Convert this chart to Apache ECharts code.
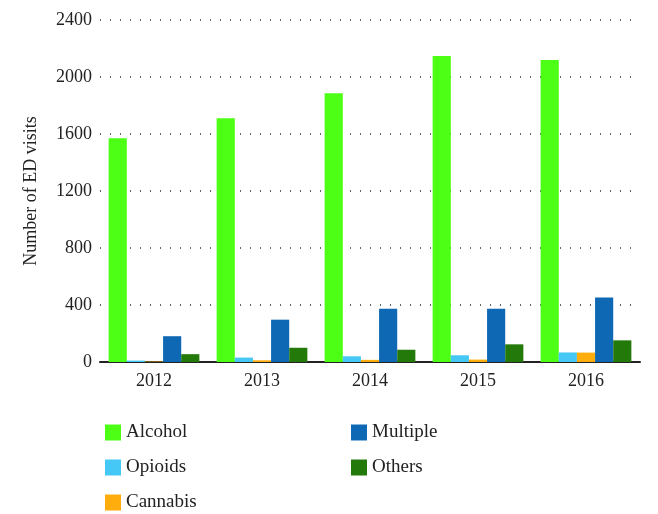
<!DOCTYPE html>
<html>
<head>
<meta charset="utf-8">
<script src="https://cdn.jsdelivr.net/npm/echarts@6/dist/echarts.min.js"></script>
<style>html,body{margin:0;background:#fff}#c{width:658px;height:514px}</style>
</head>
<body>
<div id="c"></div>
<script>
var years = ['2012', '2013', '2014', '2015', '2016'];
var alcohol = [1570, 1710, 1886, 2147, 2119];
var opioids = [10, 31, 40, 47, 67];
var cannabis = [3, 12, 15, 17, 66];
var multiple = [181, 297, 374, 374, 452];
var others = [55, 100, 86, 124, 152];
var yTicks = [0, 400, 800, 1200, 1600, 2000, 2400];

var chart = echarts.init(document.getElementById('c'));
var font = 'Liberation Serif';
function bar(name, data, color) {
  return { name: name, type: 'bar', data: data, itemStyle: { color: color }, barGap: '0%', barCategoryGap: '16%' };
}
chart.setOption({
  animation: false,
  textStyle: { fontFamily: font },
  grid: { left: 100, right: 18, top: 20, bottom: 152 },
  legend: [
    { orient: 'vertical', left: 100, top: 418, height: 120, itemWidth: 16, itemHeight: 16, itemGap: 16, icon: 'rect',
      textStyle: { fontFamily: font, fontSize: 19, color: '#222' }, data: ['Alcohol', 'Opioids', 'Cannabis'] },
    { orient: 'vertical', left: 346, top: 418, height: 120, itemWidth: 16, itemHeight: 16, itemGap: 16, icon: 'rect',
      textStyle: { fontFamily: font, fontSize: 19, color: '#222' }, data: ['Multiple', 'Others'] }
  ],
  xAxis: {
    type: 'category', data: years,
    axisLine: { lineStyle: { color: '#222', width: 2 } },
    axisTick: { show: false },
    axisLabel: { fontFamily: font, fontSize: 18, color: '#222', margin: 10 }
  },
  yAxis: {
    type: 'value', min: 0, max: 2400, interval: 400,
    name: 'Number of ED visits', nameLocation: 'middle', nameGap: 60,
    nameTextStyle: { fontFamily: font, fontSize: 18, color: '#222' },
    axisLine: { show: false }, axisTick: { show: false },
    axisLabel: { fontFamily: font, fontSize: 18, color: '#222', formatter: function (v) { return yTicks.indexOf(v) >= 0 ? v : ''; } },
    splitLine: { lineStyle: { type: [1, 9], color: '#333', width: 1.5 } }
  },
  series: [
    bar('Alcohol', alcohol, '#4cff14'),
    bar('Opioids', opioids, '#45c8f5'),
    bar('Cannabis', cannabis, '#ffad0d'),
    bar('Multiple', multiple, '#0e68b4'),
    bar('Others', others, '#237a0a')
  ]
});
</script>
</body>
</html>
